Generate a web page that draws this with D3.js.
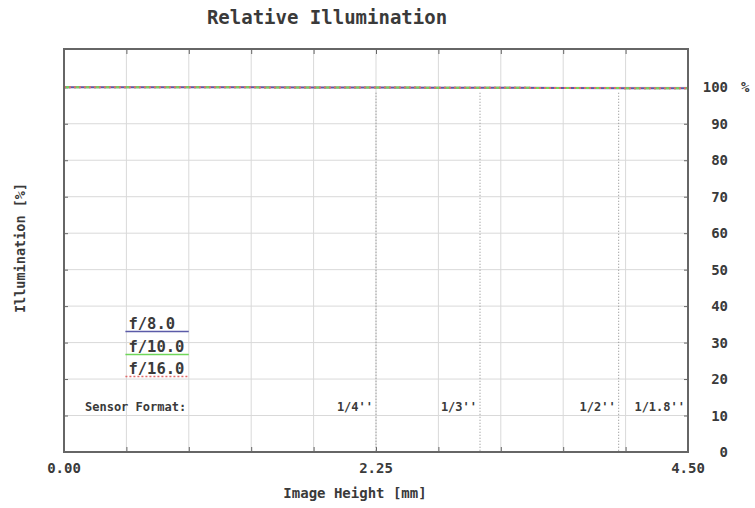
<!DOCTYPE html>
<html>
<head>
<meta charset="utf-8">
<script src="https://cdn.jsdelivr.net/npm/d3@7"></script>
<style>
  body { margin: 0; background: #fff; }
  text { font-family: "DejaVu Sans Mono", "Liberation Mono", monospace; fill: #3a3a3a; font-weight: bold; }
</style>
</head>
<body>
<div id="plot"></div>
<script>
// data
var imageHeight = [0, 0.45, 0.9, 1.35, 1.8, 2.25, 2.7, 3.15, 3.6, 4.05, 4.5];
var illumF8  = [100, 100, 99.99, 99.98, 99.96, 99.94, 99.9, 99.86, 99.82, 99.77, 99.72];
var illumF10 = [100, 100, 99.99, 99.98, 99.96, 99.94, 99.9, 99.86, 99.82, 99.77, 99.72];
var illumF16 = [100, 100, 99.99, 99.98, 99.96, 99.94, 99.9, 99.86, 99.82, 99.77, 99.72];
var seriesNames = ["f/8.0", "f/10.0", "f/16.0"];
var sensorNames = ["1/4''", "1/3''", "1/2''", "1/1.8''"];
var sensorPos = [2.25, 3.0, 4.0, 4.5];
var xGrid = [0.45, 0.9, 1.35, 1.8, 2.25, 2.7, 3.15, 3.6, 4.05];
var xLabels = [0, 2.25, 4.5];
var yTicks = [0, 10, 20, 30, 40, 50, 60, 70, 80, 90, 100];

var margin = {top: 49, right: 67, bottom: 56, left: 64},
    width = 755 - margin.left - margin.right,
    height = 508 - margin.top - margin.bottom;

var root = d3.select("#plot").append("svg")
    .attr("width", 755)
    .attr("height", 508);

var svg = root.append("g")
    .attr("transform", "translate(" + margin.left + "," + margin.top + ")");

var x = d3.scaleLinear().domain([0, 4.5]).range([0, width]);
var y = d3.scaleLinear().domain([0, 110.5]).range([height, 0]);

// grid
svg.append("g").selectAll("line").data(xGrid).enter().append("line")
    .attr("x1", d => x(d)).attr("x2", d => x(d))
    .attr("y1", 0).attr("y2", height)
    .attr("stroke", "#d9d9d9");
svg.append("g").selectAll("line").data(yTicks.slice(1)).enter().append("line")
    .attr("x1", 0).attr("x2", width)
    .attr("y1", d => y(d)).attr("y2", d => y(d))
    .attr("stroke", "#d9d9d9");

// small tick marks inside the frame
svg.append("g").call(d3.axisLeft(y).tickValues(yTicks).tickSize(-4).tickFormat(""))
    .call(g => g.select(".domain").remove())
    .selectAll("line").attr("stroke", "#666");
svg.append("g").attr("transform", "translate(" + width + ",0)")
    .call(d3.axisRight(y).tickValues(yTicks).tickSize(-4).tickFormat(""))
    .call(g => g.select(".domain").remove())
    .selectAll("line").attr("stroke", "#666");
svg.append("g").attr("transform", "translate(0," + height + ")")
    .call(d3.axisBottom(x).tickValues(xGrid).tickSize(-5).tickFormat(""))
    .call(g => g.select(".domain").remove())
    .selectAll("line").attr("stroke", "#666");
svg.append("g")
    .call(d3.axisTop(x).tickValues(xGrid).tickSize(-5).tickFormat(""))
    .call(g => g.select(".domain").remove())
    .selectAll("line").attr("stroke", "#666");

// sensor format markers
svg.append("g").selectAll("line").data(sensorPos).enter().append("line")
    .attr("x1", d => x(d)).attr("x2", d => x(d))
    .attr("y1", y(98.5)).attr("y2", height)
    .attr("stroke", "#888")
    .attr("stroke-dasharray", "1,2");
svg.append("g").selectAll("text").data(sensorNames).enter().append("text")
    .attr("x", (d, i) => x(sensorPos[i]) - 3)
    .attr("y", y(11.3))
    .attr("text-anchor", "end")
    .style("font-size", "12px")
    .text(d => d);
svg.append("text")
    .attr("x", 21).attr("y", y(11.3))
    .style("font-size", "12px")
    .text("Sensor Format:");

// curves
var colors = ["#5b5ba8", "#6fd65a", "#e06a6a"];
var dashes = [null, "6,4", "2,3"];
var series = [illumF8, illumF10, illumF16];
var line = d3.line().x((d, i) => x(imageHeight[i])).y(d => y(d));
series.forEach(function (s, k) {
    svg.append("path")
        .datum(s)
        .attr("d", line)
        .attr("fill", "none")
        .attr("stroke", colors[k])
        .attr("stroke-width", 2)
        .attr("stroke-dasharray", dashes[k]);
});

// legend
var leg = svg.append("g");
seriesNames.forEach(function (n, k) {
    var yy = Math.round(y(27) + k * 22.5 - 22.5) + 0.5;
    leg.append("text")
        .attr("x", x(0.45) + 2).attr("y", yy - 3)
        .style("font-size", "15.5px")
        .text(n);
    leg.append("line")
        .attr("x1", x(0.45) - 1).attr("x2", x(0.9))
        .attr("y1", yy).attr("y2", yy)
        .attr("stroke", colors[k])
        .attr("stroke-width", 1.5)
        .attr("stroke-dasharray", k == 2 ? "2,2" : null);
});

// frame
svg.append("rect")
    .attr("width", width).attr("height", height)
    .attr("fill", "none")
    .attr("stroke", "#666")
    .attr("stroke-width", 2);

// right axis labels
svg.append("g").selectAll("text").data(yTicks).enter().append("text")
    .attr("x", width + 40)
    .attr("y", d => y(d) + 5)
    .attr("text-anchor", "end")
    .style("font-size", "14px")
    .text(d => d);
svg.append("text")
    .attr("x", width + 53).attr("y", y(100) + 5)
    .style("font-size", "14px")
    .text("%");

// bottom axis labels
svg.append("g").selectAll("text").data(xLabels).enter().append("text")
    .attr("x", d => x(d))
    .attr("y", height + 21)
    .attr("text-anchor", "middle")
    .style("font-size", "14px")
    .text(d => d.toFixed(2));

// axis titles
root.append("text")
    .attr("x", 355).attr("y", 498)
    .attr("text-anchor", "middle")
    .style("font-size", "14px")
    .text("Image Height [mm]");
root.append("text")
    .attr("transform", "translate(25,248) rotate(-90)")
    .attr("text-anchor", "middle")
    .style("font-size", "13.5px")
    .text("Illumination [%]");
root.append("text")
    .attr("x", 327).attr("y", 24)
    .attr("text-anchor", "middle")
    .style("font-size", "19px")
    .text("Relative Illumination");
</script>
</body>
</html>
